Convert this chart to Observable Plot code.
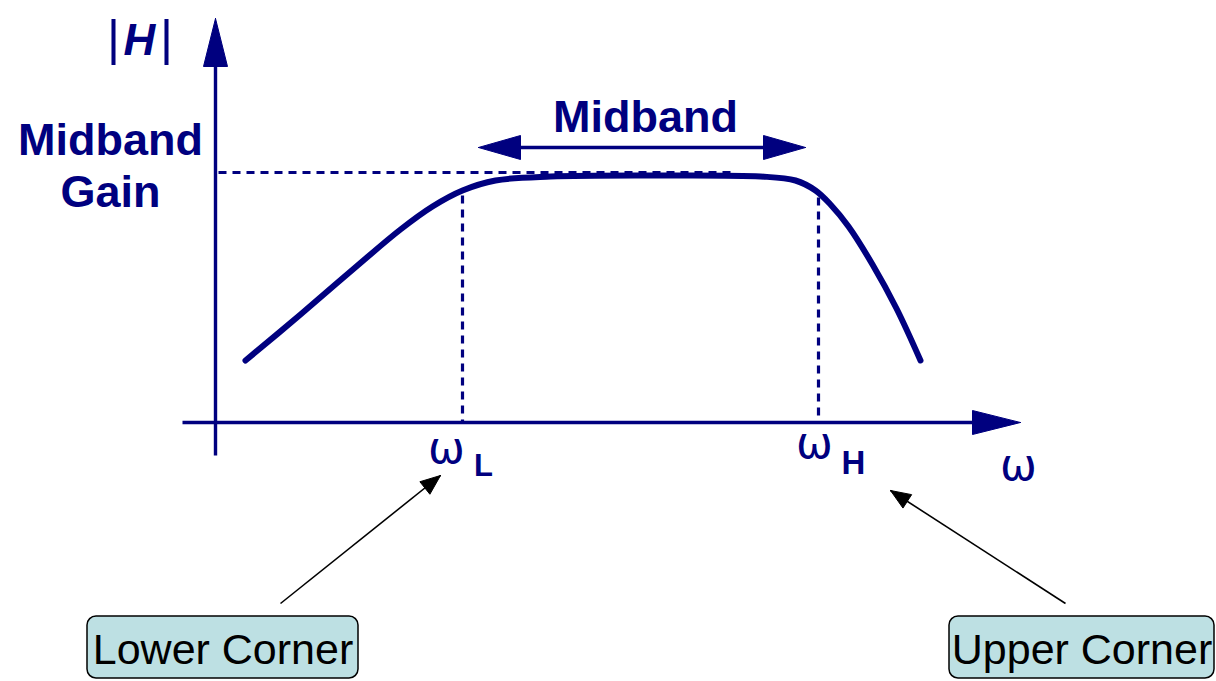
<!DOCTYPE html>
<html>
<head>
<meta charset="utf-8">
<script src="https://cdn.jsdelivr.net/npm/d3@7"></script>
<script src="https://cdn.jsdelivr.net/npm/@observablehq/plot@0.6"></script>
<style>
  html, body { margin: 0; padding: 0; background: #fff; }
  svg { display: block; overflow: visible; }
</style>
</head>
<body>
<div id="chart"></div>
<script>
// ---- Data (diagram units: x = frequency position, y = vertical position, downward) ----
const curveX = [245, 300, 350, 400, 432, 462, 495, 550, 650, 760, 795, 815, 830, 848, 872, 896, 920];
const curveY = [360, 314, 271, 229, 206, 190, 180, 176, 175, 176, 180, 190, 204, 226, 264, 308, 360];

const originX = 215, originY = 422;
const yAxisTop = 18, yAxisBottom = 455;
const xAxisLeft = 182, xAxisRight = 1020;
const gainLevel = 172, gainDashEnd = 730;
const cornerL = 462, cornerH = 818;
const midbandArrowY = 147, midbandLeft = 478, midbandRight = 805;

const labels = ["Midband", "Gain", "Midband", "ω", "L", "ω", "H", "ω"];
const boxLabels = ["Lower Corner", "Upper Corner"];
const boxX1 = [87, 949], boxX2 = [358, 1214];
const boxY1 = 616, boxY2 = 678;
const pointerFrom = [[280, 603], [1065, 603]];
const pointerTo = [[440, 475], [890, 490]];

const navy = "#00007f";

// ---- derived geometry ----
const curve = curveX.map((x, i) => ({x, y: curveY[i]}));

function head(tip, from, len, half, id) {
  const dx = tip[0] - from[0], dy = tip[1] - from[1];
  const d = Math.hypot(dx, dy), ux = dx / d, uy = dy / d;
  const bx = tip[0] - ux * len, by = tip[1] - uy * len;
  return [
    {x: tip[0], y: tip[1], id},
    {x: bx - uy * half, y: by + ux * half, id},
    {x: bx + uy * half, y: by - ux * half, id},
    {x: tip[0], y: tip[1], id}
  ];
}
const navyHeads = [
  ...head([originX, yAxisTop], [originX, yAxisBottom], 48, 12, "yaxis"),
  ...head([xAxisRight, originY], [xAxisLeft, originY], 48, 12, "xaxis"),
  ...head([midbandLeft, midbandArrowY], [midbandRight, midbandArrowY], 42, 12, "mL"),
  ...head([midbandRight, midbandArrowY], [midbandLeft, midbandArrowY], 42, 12, "mR")
];
const blackHeads = pointerTo.flatMap((t, i) => head(t, pointerFrom[i], 20, 8, "p" + i));

const solidLinks = [
  {x1: originX, y1: yAxisBottom, x2: originX, y2: yAxisTop + 40},
  {x1: xAxisLeft, y1: originY, x2: xAxisRight - 40, y2: originY},
  {x1: midbandLeft + 30, y1: midbandArrowY, x2: midbandRight - 30, y2: midbandArrowY}
];
const dashLinks = [
  {x1: originX + 3, y1: gainLevel, x2: gainDashEnd, y2: gainLevel},
  {x1: cornerL, y1: 195, x2: cornerL, y2: originY},
  {x1: cornerH, y1: 197, x2: cornerH, y2: originY}
];
const pointerLinks = pointerTo.map((t, i) => ({x1: pointerFrom[i][0], y1: pointerFrom[i][1], x2: t[0], y2: t[1]}));

const boldTexts = [
  {t: labels[0], x: 110, y: 140, s: 45},
  {t: labels[1], x: 110, y: 192, s: 45},
  {t: labels[2], x: 645, y: 117, s: 45},
  {t: labels[4], x: 483, y: 466, s: 31},
  {t: labels[6], x: 853, y: 463, s: 33}
];
const omegaTexts = [
  {t: labels[3], x: 446, y: 448},
  {t: labels[5], x: 814, y: 443},
  {t: labels[7], x: 1018, y: 465}
];
const boxes = boxLabels.map((t, i) => ({t, x1: boxX1[i], x2: boxX2[i], y1: boxY1, y2: boxY2}));

const plot = Plot.plot({
  width: 1216,
  height: 681,
  margin: 0,
  x: {domain: [0, 1216], range: [0, 1216], axis: null},
  y: {domain: [0, 681], range: [0, 681], axis: null},
  style: {fontFamily: "'Liberation Sans', Arial, sans-serif", background: "#fff"},
  marks: [
    Plot.link(dashLinks, {x1: "x1", y1: "y1", x2: "x2", y2: "y2", stroke: navy, strokeWidth: 3.2, strokeDasharray: "8,6"}),
    Plot.link(solidLinks, {x1: "x1", y1: "y1", x2: "x2", y2: "y2", stroke: navy, strokeWidth: 3.4}),
    Plot.line(navyHeads, {x: "x", y: "y", z: "id", fill: navy, stroke: navy, strokeWidth: 1}),
    Plot.line(curve, {x: "x", y: "y", curve: "catmull-rom", stroke: navy, strokeWidth: 6}),
    Plot.link(pointerLinks, {x1: "x1", y1: "y1", x2: "x2", y2: "y2", stroke: "#000", strokeWidth: 1.6}),
    Plot.line(blackHeads, {x: "x", y: "y", z: "id", fill: "#000", stroke: "#000", strokeWidth: 1}),
    Plot.text(boldTexts, {x: "x", y: "y", text: "t", fontSize: d => d.s, fontWeight: "bold", fill: navy}),
    Plot.text(omegaTexts, {x: "x", y: "y", text: "t", fontSize: 44, fontFamily: "'DejaVu Sans', sans-serif", fill: navy}),
    Plot.text(["|"], {x: 113, y: 38, text: d => d, fontSize: 50, fill: navy, fontWeight: "normal"}),
    Plot.text(["H"], {x: 139, y: 40, text: d => d, fontSize: 44, fill: navy, fontWeight: "bold", fontStyle: "italic"}),
    Plot.text(["|"], {x: 166, y: 38, text: d => d, fontSize: 50, fill: navy, fontWeight: "normal"}),
    Plot.rect(boxes, {x1: "x1", x2: "x2", y1: "y1", y2: "y2", fill: "#bde0e3", stroke: "#000", strokeWidth: 1.5, rx: 9}),
    Plot.text(boxes, {x: d => (d.x1 + d.x2) / 2, y: d => (d.y1 + d.y2) / 2 + 3, text: "t", fontSize: 43, fill: "#000"})
  ]
});
document.getElementById("chart").appendChild(plot);
</script>
</body>
</html>
